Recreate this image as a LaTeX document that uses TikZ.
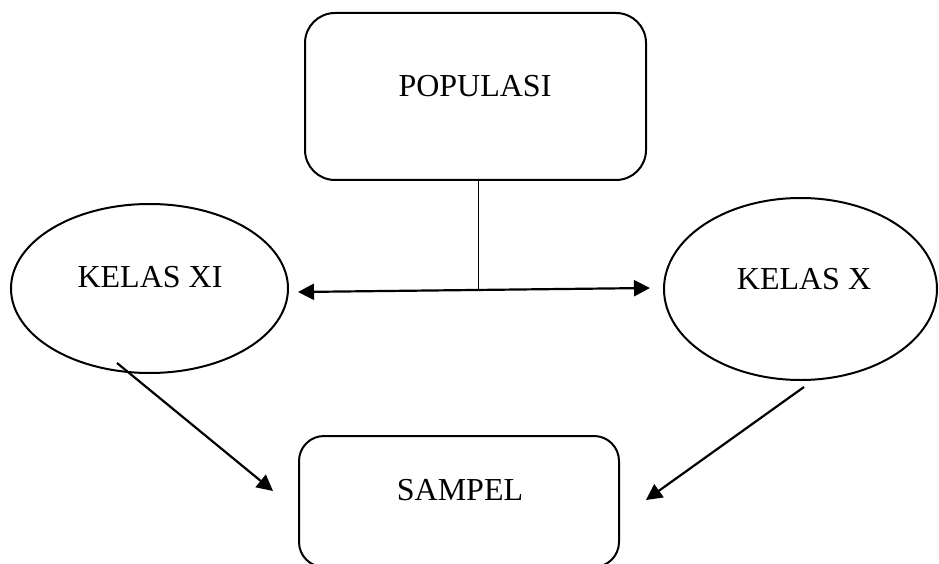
\documentclass[tikz,border=0pt]{standalone}
\usepackage{fontspec}
\setmainfont{Liberation Serif}
\usetikzlibrary{arrows.meta,shapes.geometric}
\begin{document}
\begin{tikzpicture}[x=1pt,y=-1pt,
  box/.style={draw,line width=2pt,rounded corners=#1,inner sep=0pt},
  box/.default=30pt,
  oval/.style={draw,ellipse,line width=2pt,inner sep=0pt},
  lbl/.style={font=\fontsize{32}{38}\selectfont,inner sep=0pt},
  head/.style={Triangle[length=16pt,width=16pt]},
  conn/.style={line width=2.2pt,-{Triangle[length=16pt,width=16pt]}},
  both/.style={line width=2.2pt,{Triangle[length=16pt,width=16pt]}-{Triangle[length=16pt,width=16pt]}},
  stem/.style={line width=1pt},
]
\useasboundingbox (0,0) rectangle (939,564);

% top box
\node[box, minimum width=341pt, minimum height=167pt] (pop) at (475.5,96.5) {};
\node[lbl] (popt) at (475,86) {POPULASI};

% the two classes
\node[oval, minimum width=277pt, minimum height=169pt] (kxi) at (149.5,288.5) {};
\node[lbl] (kxit) at (150,277.5) {KELAS XI};
\node[oval, minimum width=273pt, minimum height=182pt] (kx) at (800.5,289) {};
\node[lbl] (kxt) at (804,279) {KELAS X};

% bottom box
\node[box=25pt, minimum width=320pt, minimum height=131pt] (smp) at (459,501.5) {};
\node[lbl] (smpt) at (460,490.5) {SAMPEL};

% connector end points
\coordinate (stemtop) at (478,179);
\coordinate (join) at (478,290);
\coordinate (leftend) at (298,292);
\coordinate (rightend) at (650,288);
\coordinate (xistart) at (117,363);
\coordinate (xiend) at (273,491);
\coordinate (xstart) at (804,387);
\coordinate (xend) at (646,500);

\draw[stem] (stemtop) -- (join);
\draw[both] (leftend) -- (rightend);
\draw[conn] (xistart) -- (xiend);
\draw[conn] (xstart) -- (xend);
\end{tikzpicture}
\end{document}
